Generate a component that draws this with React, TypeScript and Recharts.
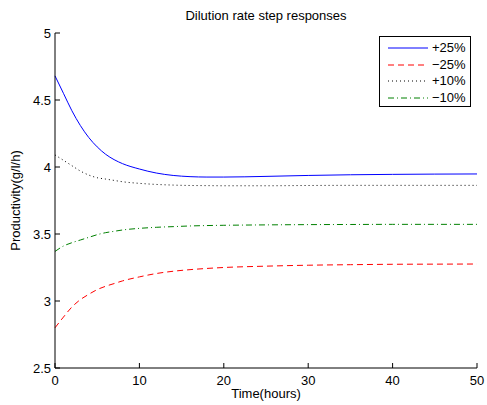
import React from 'react';
import { LineChart, Line, XAxis, YAxis, Label } from 'recharts';

const TIME = [0, 1, 2, 3, 4, 5, 6, 7, 8, 10, 12, 14, 16, 18, 20, 25, 30, 35, 40, 45, 50];
const PLUS_25 = [4.68, 4.55, 4.42, 4.31, 4.22, 4.15, 4.095, 4.055, 4.025, 3.985, 3.955, 3.937, 3.928, 3.925, 3.925, 3.93, 3.937, 3.942, 3.945, 3.947, 3.948];
const MINUS_25 = [2.8, 2.88, 2.955, 3.01, 3.05, 3.085, 3.11, 3.13, 3.15, 3.18, 3.205, 3.222, 3.234, 3.243, 3.25, 3.26, 3.267, 3.271, 3.274, 3.275, 3.276];
const PLUS_10 = [4.09, 4.05, 4.01, 3.97, 3.94, 3.92, 3.91, 3.9, 3.89, 3.878, 3.87, 3.865, 3.862, 3.861, 3.86, 3.86, 3.862, 3.863, 3.863, 3.863, 3.863];
const MINUS_10 = [3.37, 3.41, 3.435, 3.455, 3.475, 3.495, 3.51, 3.52, 3.53, 3.542, 3.55, 3.555, 3.56, 3.563, 3.565, 3.568, 3.57, 3.571, 3.572, 3.572, 3.572];
const X_TICKS = [0, 10, 20, 30, 40, 50];
const Y_TICKS = [2.5, 3, 3.5, 4, 4.5, 5];

const SERIES = [
  { key: 'p25', name: '+25%', color: '#0000ff', dash: undefined },
  { key: 'm25', name: '\u221225%', color: '#ff0000', dash: '6 4' },
  { key: 'p10', name: '+10%', color: '#000000', dash: '1 3' },
  { key: 'm10', name: '\u221210%', color: '#008000', dash: '6 3 1 3' },
];

const data = TIME.map((t, i) => ({
  t,
  p25: PLUS_25[i],
  m25: MINUS_25[i],
  p10: PLUS_10[i],
  m10: MINUS_10[i],
}));

const FONT = '"Liberation Sans", Arial, sans-serif';
const tickStyle = { fontSize: 13, fill: '#000', fontFamily: FONT };

// rotated y-axis title, centred on the plot area
const YLabel = (props: any) => {
  const vb = props.viewBox || { y: 33, height: 335 };
  const cy = vb.y + vb.height / 2;
  return (
    <text x={20} y={cy} transform={`rotate(-90, 20, ${cy})`} textAnchor="middle" fontSize={13} fontFamily={FONT} fill="#000">
      Productivity(g/l/h)
    </text>
  );
};

export default function App() {
  return (
    <div style={{ position: 'absolute', left: 0, top: 0, width: 487, height: 405, background: '#fff' }}>
      <div
        style={{
          position: 'absolute', left: 55, width: 422, top: 8, textAlign: 'center',
          fontFamily: FONT, fontSize: 13, color: '#000',
        }}
      >
        Dilution rate step responses
      </div>
      <LineChart width={487} height={405} data={data} margin={{ top: 33, right: 10, bottom: 0, left: 0 }}>
        <XAxis
          dataKey="t"
          type="number"
          domain={[0, 50]}
          ticks={X_TICKS}
          height={37}
          tickSize={-5}
          tickMargin={13}
          tick={tickStyle}
          stroke="#000"
          axisLine={{ stroke: '#000' }}
          tickLine={{ stroke: '#000' }}
        >
          <Label value="Time(hours)" position="insideBottom" offset={7} style={{ fontSize: 13, fontFamily: FONT, fill: '#000' }} />
        </XAxis>
        <YAxis
          type="number"
          domain={[2.5, 5]}
          ticks={Y_TICKS}
          width={55}
          tickSize={-5}
          tickMargin={9}
          tick={tickStyle}
          stroke="#000"
          axisLine={{ stroke: '#000' }}
          tickLine={{ stroke: '#000' }}
          allowDataOverflow
        >
          <Label content={<YLabel />} />
        </YAxis>
        {SERIES.map((s) => (
          <Line
            key={s.key}
            type="monotone"
            dataKey={s.key}
            name={s.name}
            stroke={s.color}
            strokeWidth={1}
            strokeDasharray={s.dash}
            dot={false}
            activeDot={false}
            isAnimationActive={false}
          />
        ))}
      </LineChart>
      <div
        style={{
          position: 'absolute', left: 379, top: 36, width: 92, height: 71, boxSizing: 'border-box',
          border: '1px solid #000', background: '#fff', fontFamily: FONT, fontSize: 13,
        }}
      >
        {SERIES.map((s, i) => (
          <div key={s.key} style={{ position: 'absolute', left: 0, top: 2 + i * 16.7, height: 17, display: 'flex', alignItems: 'center' }}>
            <svg width={52} height={17} style={{ display: 'block' }}>
              <line x1={8} x2={48} y1={9} y2={9} stroke={s.color} strokeWidth={1} strokeDasharray={s.dash} />
            </svg>
            <span style={{ color: '#000' }}>{s.name}</span>
          </div>
        ))}
      </div>
    </div>
  );
}
